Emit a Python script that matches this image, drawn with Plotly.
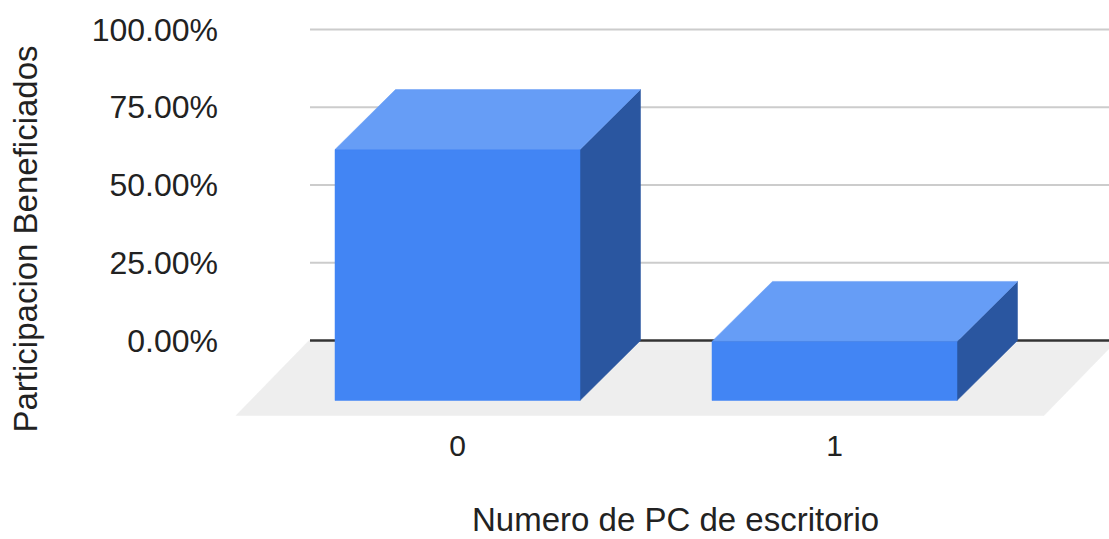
import plotly.graph_objects as go

categories = ["0", "1"]
positions = [0, 1]
participacion = [0.807, 0.19]
y_ticks = [0, 0.25, 0.5, 0.75, 1.0]
x_title = "Numero de PC de escritorio"
y_title = "Participacion Beneficiados"

# pseudo-3D projection, in axis units
PX_X = 377.0          # pixels per category step
PX_Y = 311.0          # pixels per 100 %
BAR_W = 245 / PX_X
DEPTH_X = 60.5 / PX_X
DEPTH_Y = 60 / PX_Y
FLOOR_DX = 73 / PX_X
FLOOR_DY = 75 / PX_Y
X0 = (222 - 457.5) / PX_X
X1 = (1109 - 457.5) / PX_X
Y_TOP = 340.5 / PX_Y
Y_BOTTOM = (340.5 - 425) / PX_Y
WALL_L = (310 - 457.5) / PX_X
FLOOR_L = (236 - 457.5) / PX_X
FLOOR_R = (1044 - 457.5) / PX_X

FRONT, TOP, SIDE = "#4285f4", "#669df6", "#2a56a0"
TEXT = "#222222"
FONT = "Liberation Sans, Arial, sans-serif"

fig = go.Figure()


def poly(xs, ys, color):
    fig.add_trace(go.Scatter(x=xs + xs[:1], y=ys + ys[:1], mode="lines", fill="toself",
                             fillcolor=color, line=dict(color=color, width=0.5),
                             hoverinfo="skip", showlegend=False))


poly([FLOOR_L, FLOOR_R, FLOOR_R + FLOOR_DX, FLOOR_L + FLOOR_DX],
     [-FLOOR_DY, -FLOOR_DY, 0, 0], "#eeeeee")

for t in y_ticks:
    fig.add_trace(go.Scatter(x=[WALL_L, X1], y=[t, t], mode="lines",
                             line=dict(color="#cccccc" if t else "#333333", width=2.5 if t == 0 else 2.2),
                             hoverinfo="skip", showlegend=False))

for p, v in zip(positions, participacion):
    l, r = p - BAR_W / 2, p + BAR_W / 2
    top = v - DEPTH_Y
    bottom = -DEPTH_Y
    poly([r, r + DEPTH_X, r + DEPTH_X, r], [bottom, 0, v, top], SIDE)
    poly([l, r, r + DEPTH_X, l + DEPTH_X], [top, top, v, v], TOP)
    poly([l, r, r, l], [bottom, bottom, top, top], FRONT)

fig.update_layout(
    width=1109, height=539,
    margin=dict(l=222, r=0, t=0, b=114),
    paper_bgcolor="white", plot_bgcolor="white",
    font=dict(family=FONT, size=30, color=TEXT),
    showlegend=False,
    xaxis=dict(range=[X0, X1], tickvals=positions, ticktext=categories, showgrid=False,
               zeroline=False, showline=False, ticks="", tickfont=dict(size=30, color=TEXT),
               automargin=False),
    yaxis=dict(range=[Y_BOTTOM, Y_TOP], tickvals=y_ticks, tickformat=".2%", showgrid=False,
               zeroline=False, showline=False, ticks="", tickfont=dict(size=32, color=TEXT),
               ticklabelstandoff=3, automargin=False),
    annotations=[
        dict(text=x_title, xref="paper", yref="paper", x=(675 - 222) / 887, y=-(519.5 - 425) / 425,
             xanchor="center", yanchor="middle", showarrow=False, font=dict(size=33, color=TEXT)),
        dict(text=y_title, xref="paper", yref="paper", x=-(222 - 25) / 887, y=(425 - 239.5) / 425,
             xanchor="center", yanchor="middle", textangle=-90, showarrow=False,
             font=dict(size=33, color=TEXT)),
    ],
)

fig.write_html("out.html", config=dict(displayModeBar=False),
               post_script="document.body.style.margin='0';document.documentElement.style.overflow='hidden';")
